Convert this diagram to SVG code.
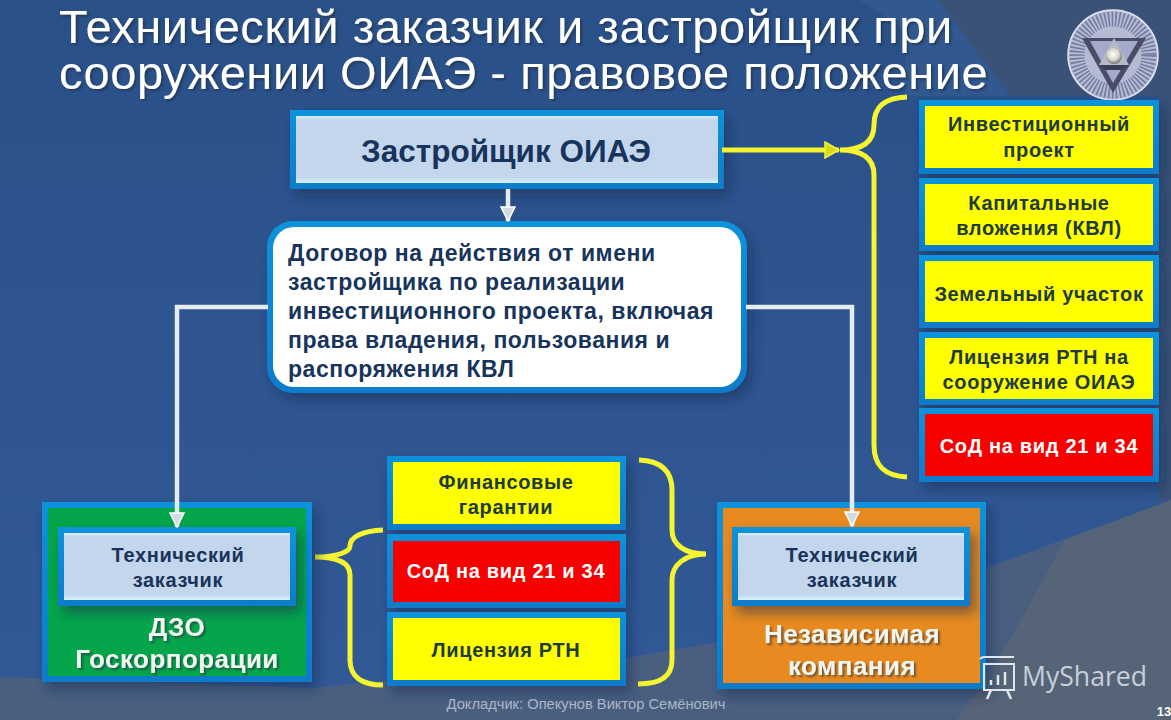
<svg xmlns="http://www.w3.org/2000/svg" width="1171" height="720" viewBox="0 0 1171 720">
<defs>
<linearGradient id="bg" x1="0" y1="0" x2="0" y2="1"><stop offset="0" stop-color="#2a5088"/><stop offset="0.5" stop-color="#2e5590"/><stop offset="1" stop-color="#315996"/></linearGradient>
<linearGradient id="blueBox" x1="0" y1="0" x2="0" y2="1"><stop offset="0" stop-color="#d8ecf8"/><stop offset="0.06" stop-color="#c3d6ec"/><stop offset="0.92" stop-color="#c3d6ec"/><stop offset="1" stop-color="#d8f2fc"/></linearGradient>
<linearGradient id="frame" x1="0" y1="0" x2="0" y2="1"><stop offset="0" stop-color="#0f92dc"/><stop offset="1" stop-color="#0a7cca"/></linearGradient>
<radialGradient id="ball" cx="0.45" cy="0.4" r="0.6"><stop offset="0" stop-color="#fff"/><stop offset="0.6" stop-color="#d5d6cc"/><stop offset="1" stop-color="#6f7078"/></radialGradient>
<filter id="sh" x="-10%" y="-15%" width="125%" height="140%"><feDropShadow dx="5" dy="7" stdDeviation="6" flood-color="#0f2a50" flood-opacity="0.5"/></filter>
<filter id="ts" x="-10%" y="-20%" width="125%" height="150%"><feDropShadow dx="2" dy="2" stdDeviation="1" flood-color="#1a2a40" flood-opacity="0.6"/></filter>
<marker id="wa" viewBox="0 0 16 16" refX="15" refY="8" markerWidth="16" markerHeight="16" markerUnits="userSpaceOnUse" orient="auto"><path d="M1 1L15 8L1 15Z" fill="#d4dae2" stroke="#fff" stroke-width="1.5"/></marker>
<marker id="ya" viewBox="0 0 16 18" refX="15" refY="9" markerWidth="16" markerHeight="18" markerUnits="userSpaceOnUse" orient="auto"><path d="M1 1L15 9L1 17Z" fill="#d8d820" stroke="#f4f430" stroke-width="1.5"/></marker>
</defs>
<style>
text{font-family:"Liberation Sans",Arial,sans-serif;text-anchor:middle}
.o{fill:url(#frame)}
.y{fill:#ffff00}
.r{fill:#f60000}
.l{fill:url(#blueBox)}
.t{font-weight:700;font-size:20px;fill:#1a3358;letter-spacing:.65px}
.d{font-weight:700;font-size:20px;fill:#1e3a3c;letter-spacing:.65px}
.w{font-weight:700;font-size:20px;fill:#fff;letter-spacing:.7px}
.big{font-weight:700;font-size:26px;fill:#f2f6f0;filter:url(#ts);letter-spacing:.45px}
.head{font-size:47px;fill:#fff;text-anchor:start;filter:url(#ts);letter-spacing:.55px}
.body{font-weight:700;font-size:23px;fill:#17345c;text-anchor:start;letter-spacing:.55px}
.c{fill:none;stroke:#f4f430;stroke-width:5}
.a{fill:none;stroke:#e6ebf2;stroke-width:4.5}
</style>
<rect width="1171" height="720" fill="url(#bg)"/>
<path d="M938 0L1010 96H1158V500H1171V0Z" fill="#3a5278"/>
<path d="M860 0H938L1010 96H905L905 30Z" fill="#31598f"/>
<path d="M0 677L310 688L626 658L718 642L986 568L1171 500V720H0Z" fill="#4a5f80"/>
<path d="M957 720L1010 640L1065 540L1171 500V720Z" fill="#566478"/>

<text class="head" x="59" y="43">Технический заказчик и застройщик при</text>
<text class="head" x="59" y="89">сооружении ОИАЭ - правовое положение</text>

<g id="logo">
<circle cx="1113" cy="55" r="45" fill="#b4bbd3" stroke="#dfe3ee" stroke-width="1.5"/>
<circle cx="1113" cy="55" r="36" fill="none" stroke="#747ca2" stroke-width="15" stroke-dasharray="1.6 1.9"/>
<path d="M1082 38H1146L1113 93Z" fill="#4a4c68"/>
<path d="M1090 41H1138L1113 83Z" fill="#a4aacb"/>
<path d="M1099 65H1129L1121 70H1106Z" fill="#3c3e55"/>
<path d="M1114 38L1129 65H1099Z" fill="#b8bac4"/>
<circle cx="1114" cy="56" r="8" fill="url(#ball)"/>
</g>

<g id="brace-right">
<path class="c" d="M907 97C885 98 874 106 874 125C874 140 865 150 840 150C865 150 874 160 874 175V445C874 466 885 476 907 477"/>
</g>
<g id="brace-bottom-left">
<path class="c" d="M383 530C362 531 350 537 350 546C350 552 337 557 315 557C337 557 350 562 350 575V660C350 677 362 685 383 685"/>
</g>
<g id="brace-bottom-right">
<path class="c" d="M639 460C662 461 672 472 672 490V530C672 545 685 554 706 554C685 554 672 565 672 580V660C672 677 660 684 638 684"/>
</g>

<g id="developer">
<rect class="o" x="290" y="110" width="434" height="79" filter="url(#sh)"/>
<rect class="l" x="296" y="116" width="422" height="67"/>
<text x="506" y="162" font-size="31.5" font-weight="700" fill="#17345c">Застройщик ОИАЭ</text>
</g>

<g id="contract">
<rect class="o" x="267" y="221" width="480" height="172" rx="26" filter="url(#sh)"/>
<rect x="273" y="227" width="468" height="160" rx="21" fill="#fff"/>
<text class="body" x="288" y="261">Договор на действия от имени</text>
<text class="body" x="288" y="290">застройщика по реализации</text>
<text class="body" x="288" y="319">инвестиционного проекта, включая</text>
<text class="body" x="288" y="348">права владения, пользования и</text>
<text class="body" x="288" y="377">распоряжения КВЛ</text>
</g>

<g id="r1"><rect class="o" x="919" y="100" width="240" height="74" filter="url(#sh)"/><rect class="y" x="925" y="106" width="228" height="62"/>
<text class="d" x="1039" y="131">Инвестиционный</text><text class="d" x="1039" y="157">проект</text></g>
<g id="r2"><rect class="o" x="919" y="178" width="240" height="73" filter="url(#sh)"/><rect class="y" x="925" y="184" width="228" height="61"/>
<text class="d" x="1039" y="210">Капитальные</text><text class="d" x="1039" y="235">вложения (КВЛ)</text></g>
<g id="r3"><rect class="o" x="919" y="255" width="240" height="73" filter="url(#sh)"/><rect class="y" x="925" y="261" width="228" height="61"/>
<text class="d" x="1039" y="301">Земельный участок</text></g>
<g id="r4"><rect class="o" x="919" y="332" width="240" height="73" filter="url(#sh)"/><rect class="y" x="925" y="338" width="228" height="61"/>
<text class="d" x="1039" y="364">Лицензия РТН на</text><text class="d" x="1039" y="389">сооружение ОИАЭ</text></g>
<g id="r5"><rect class="o" x="919" y="408" width="240" height="74" filter="url(#sh)"/><rect class="r" x="925" y="414" width="228" height="62"/>
<text class="w" x="1039" y="453">СоД на вид 21 и 34</text></g>

<g id="m1"><rect class="o" x="387" y="456" width="239" height="74" filter="url(#sh)"/><rect class="y" x="393" y="462" width="227" height="62"/>
<text class="d" x="506" y="489">Финансовые</text><text class="d" x="506" y="514">гарантии</text></g>
<g id="m2"><rect class="o" x="387" y="534" width="239" height="74" filter="url(#sh)"/><rect class="r" x="393" y="541" width="227" height="61"/>
<text class="w" x="506" y="578">СоД на вид 21 и 34</text></g>
<g id="m3"><rect class="o" x="387" y="612" width="239" height="74" filter="url(#sh)"/><rect class="y" x="393" y="618" width="227" height="62"/>
<text class="d" x="506" y="657">Лицензия РТН</text></g>

<g id="dzo">
<rect class="o" x="42" y="502" width="270" height="180" filter="url(#sh)"/>
<rect x="48" y="508" width="258" height="168" fill="#05a54b"/>
<rect class="o" x="58" y="527" width="238" height="79" filter="url(#sh)"/>
<rect class="l" x="64" y="533" width="226" height="67"/>
<text class="t" x="178" y="562">Технический</text><text class="t" x="178" y="587">заказчик</text>
<text class="big" x="177" y="636">ДЗО</text><text class="big" x="177" y="668">Госкорпорации</text>
</g>

<g id="independent">
<rect class="o" x="717" y="502" width="269" height="187" filter="url(#sh)"/>
<rect x="723" y="508" width="257" height="175" fill="#e88a20"/>
<rect class="o" x="732" y="527" width="238" height="79" filter="url(#sh)"/>
<rect class="l" x="738" y="533" width="226" height="67"/>
<text class="t" x="852" y="562">Технический</text><text class="t" x="852" y="587">заказчик</text>
<text class="big" x="852" y="643">Независимая</text><text class="big" x="852" y="675">компания</text>
</g>

<g id="connectors">
<path class="a" d="M508 189V221" marker-end="url(#wa)"/>
<path class="a" d="M268 307H177V527" marker-end="url(#wa)"/>
<path class="a" d="M746 307H852V526" marker-end="url(#wa)"/>
<path d="M722 150H839" fill="none" stroke="#f4f430" stroke-width="5" marker-end="url(#ya)"/>
</g>

<g id="mark">
<path d="M984 664H1014V690H984ZM980 659Q982 657 984 657H1014" fill="none" stroke="#dfe6ec" stroke-width="2"/>
<path d="M991 685V680M998 685V675M1005 685V672M991 690L987 699M1007 690L1011 699" stroke="#dfe6ec" stroke-width="2.5" fill="none"/>
<text x="1022" y="686" style="font-family:'Open Sans',sans-serif;text-anchor:start" font-size="26.6" fill="#c6d0da">MyShared</text>
</g>
<text x="586" y="709" font-size="14.7" fill="#aab6c8">Докладчик: Опекунов Виктор Семёнович</text>
<text x="1164" y="716" font-size="13" font-weight="700" fill="#fff">13</text>
</svg>
